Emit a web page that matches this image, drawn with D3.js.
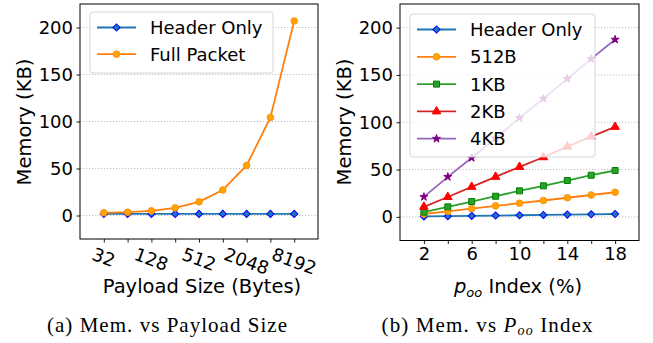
<!DOCTYPE html>
<html lang="en">
<head>
<meta charset="utf-8">
<title>Memory</title>
<script src="https://cdn.jsdelivr.net/npm/d3@7"></script>
<style>
  body { margin: 0; background: white; }
  text { font-family: "DejaVu Sans", sans-serif; fill: black; }
  .grid line { stroke: #b0b0b0; stroke-width: 0.8px; stroke-dasharray: 1.2,1.8; }
  .caption { font-family: "Liberation Serif", serif; }
</style>
</head>
<body>
<script>
  // ---- data ----
  var payloadSizes = [32, 64, 128, 256, 512, 1024, 2048, 4096, 8192];
  var headerOnlyA  = [1.7, 1.7, 1.7, 1.7, 1.7, 1.7, 1.7, 1.7, 1.7];
  var fullPacket   = [2.8, 3.5, 4.9, 8.1, 14.5, 27.2, 53.2, 104.3, 207];

  var pooIndex     = [2, 4, 6, 8, 10, 12, 14, 16, 18];
  var headerOnlyB  = [0.4, 0.7, 1.0, 1.4, 1.7, 2.0, 2.4, 2.7, 3.0];
  var mem512B      = [3.0, 5.8, 8.7, 11.6, 14.4, 17.3, 20.2, 23.1, 26.0];
  var mem1KB       = [4.9, 10.6, 16.2, 21.8, 27.5, 32.8, 38.4, 44.0, 49.0];
  var mem2KB       = [10.6, 21.0, 31.7, 42.3, 52.8, 63.0, 74.3, 84.8, 95.1];
  var mem4KB       = [21.1, 42.3, 62.4, 83.1, 104.6, 125.0, 145.9, 167.0, 187.4];

  var yTicks       = [0, 50, 100, 150, 200];
  var xLabelsA     = [32, 128, 512, 2048, 8192];
  var xLabelsB     = [2, 6, 10, 14, 18];

  var w = 653, h = 343;
  var fs = 18;

  var svg = d3.select("body").append("svg")
      .attr("width", w).attr("height", h);

  var styles = {
    header: {line: "#1f77b4", fill: "#1f77b4", edge: "blue", sym: "diamond"},
    orange: {line: "#ff7f0e", fill: "orange", edge: "#ff8c10", sym: "circle"},
    green:  {line: "#2ca02c", fill: "#2ca02c", edge: "green", sym: "square"},
    red:    {line: "#d62728", fill: "red", edge: "red", sym: "triangle"},
    purple: {line: "#9467bd", fill: "purple", edge: "purple", sym: "star"}
  };

  function symPath(s) {
    if (s == "diamond") return d3.symbol().type(d3.symbolSquare).size(26)();
    if (s == "circle") return d3.symbol().type(d3.symbolCircle).size(34)();
    if (s == "square") return d3.symbol().type(d3.symbolSquare).size(36)();
    if (s == "triangle") return d3.symbol().type(d3.symbolTriangle).size(32)();
    return d3.symbol().type(d3.symbolStar).size(20)();
  }
  function drawMarker(g, st, x, y) {
    g.append("path")
      .attr("d", symPath(st.sym))
      .attr("transform", "translate(" + x + "," + y + ")" + (st.sym == "diamond" ? " rotate(45)" : ""))
      .attr("fill", st.fill)
      .attr("stroke", st.edge)
      .attr("stroke-width", 1);
  }

  function drawSeries(g, x, y, xs, ys, st) {
    var pts = xs.map(function(d, i) { return [x(d), y(ys[i])]; });
    g.append("path")
      .attr("d", d3.line()(pts))
      .attr("fill", "none")
      .attr("stroke", st.line)
      .attr("stroke-width", 1.8);
    pts.forEach(function(p) { drawMarker(g, st, p[0], p[1]); });
  }

  function drawLegend(g, x0, y0, bw, bh, rowH, items) {
    g.append("rect")
      .attr("x", x0).attr("y", y0).attr("width", bw).attr("height", bh)
      .attr("rx", 3)
      .attr("fill", "white").attr("fill-opacity", 0.8)
      .attr("stroke", "#cccccc").attr("stroke-width", 0.8);
    items.forEach(function(it, i) {
      var cy = y0 + 15.5 + i * rowH;
      g.append("line")
        .attr("x1", x0 + 7).attr("x2", x0 + 46)
        .attr("y1", cy).attr("y2", cy)
        .attr("stroke", it.st.line).attr("stroke-width", 1.8);
      drawMarker(g, it.st, x0 + 26.5, cy);
      g.append("text")
        .attr("x", x0 + 60).attr("y", cy + 6.5)
        .attr("font-size", fs)
        .text(it.name);
    });
  }

  function frame(g, x0, x1, y0, y1) {
    g.append("rect")
      .attr("x", x0).attr("y", y0)
      .attr("width", x1 - x0).attr("height", y1 - y0)
      .attr("fill", "none").attr("stroke", "black").attr("stroke-width", 1);
  }

  function yAxis(g, y, x0, x1) {
    g.append("g").attr("class", "grid")
      .selectAll("line").data(yTicks).enter().append("line")
      .attr("x1", x0).attr("x2", x1)
      .attr("y1", function(d) { return y(d); })
      .attr("y2", function(d) { return y(d); });
    var ax = g.append("g")
      .attr("transform", "translate(" + x0 + ",0)")
      .call(d3.axisLeft(y).tickValues(yTicks).tickSize(3.5).tickPadding(3.5));
    ax.select(".domain").remove();
    ax.selectAll("text").attr("font-size", fs).attr("font-family", "DejaVu Sans");
    ax.selectAll("line").attr("stroke-width", 0.9);
  }

  // ================= (a) =================
  var a = svg.append("g");
  var xa = d3.scaleLog().base(2).domain([16, 16384]).range([80, 318]);
  var ya = d3.scaleLinear().domain([-25, 225]).range([239, 4]);

  yAxis(a, ya, 80, 318);

  var xaAx = a.append("g")
    .attr("transform", "translate(0,239)")
    .call(d3.axisBottom(xa).tickValues(payloadSizes).tickSize(3.5).tickFormat(""));
  xaAx.select(".domain").remove();
  xaAx.selectAll("line").attr("stroke-width", 0.9);

  var ang = 20, rad = ang * Math.PI / 180;
  xLabelsA.forEach(function(v) {
    var t = a.append("text")
      .attr("font-size", fs)
      .attr("text-anchor", "middle")
      .attr("dominant-baseline", "central")
      .text(v);
    var tw = t.node().getComputedTextLength();
    var th = fs * 0.74;
    var cy = 247 + (tw * Math.sin(rad) + th * Math.cos(rad)) / 2;
    t.attr("transform", "translate(" + xa(v) + "," + cy + ") rotate(" + ang + ")");
  });

  drawSeries(a, xa, ya, payloadSizes, headerOnlyA, styles.header);
  drawSeries(a, xa, ya, payloadSizes, fullPacket, styles.orange);
  frame(a, 80, 318, 4, 239);

  drawLegend(a, 90, 12, 183, 61, 26.7, [
    {name: "Header Only", st: styles.header},
    {name: "Full Packet", st: styles.orange}
  ]);

  a.append("text")
    .attr("x", 202).attr("y", 293)
    .attr("text-anchor", "middle").attr("font-size", 19.5)
    .text("Payload Size (Bytes)");
  a.append("text")
    .attr("transform", "translate(31,122) rotate(-90)")
    .attr("text-anchor", "middle").attr("font-size", 19.5)
    .text("Memory (KB)");
  a.append("text")
    .attr("class", "caption")
    .attr("x", 167).attr("y", 332)
    .attr("text-anchor", "middle").attr("font-size", 21)
    .attr("textLength", 240).attr("lengthAdjust", "spacing")
    .text("(a) Mem. vs Payload Size");

  // ================= (b) =================
  var b = svg.append("g");
  var xb = d3.scaleLinear().domain([0, 20]).range([400, 639]);
  var yb = d3.scaleLinear().domain([-25, 225]).range([240.5, 4]);

  yAxis(b, yb, 400, 639);

  var xbAx = b.append("g")
    .attr("transform", "translate(0,240.5)")
    .call(d3.axisBottom(xb).tickValues(pooIndex).tickSize(3.5).tickPadding(3.5)
      .tickFormat(function(d) { return xLabelsB.indexOf(d) >= 0 ? d : ""; }));
  xbAx.select(".domain").remove();
  xbAx.selectAll("text").attr("font-size", fs).attr("font-family", "DejaVu Sans");
  xbAx.selectAll("line").attr("stroke-width", 0.9);

  drawSeries(b, xb, yb, pooIndex, headerOnlyB, styles.header);
  drawSeries(b, xb, yb, pooIndex, mem512B, styles.orange);
  drawSeries(b, xb, yb, pooIndex, mem1KB, styles.green);
  drawSeries(b, xb, yb, pooIndex, mem2KB, styles.red);
  drawSeries(b, xb, yb, pooIndex, mem4KB, styles.purple);
  frame(b, 400, 639, 4, 240.5);

  drawLegend(b, 410, 14, 185, 143, 27.3, [
    {name: "Header Only", st: styles.header},
    {name: "512B", st: styles.orange},
    {name: "1KB", st: styles.green},
    {name: "2KB", st: styles.red},
    {name: "4KB", st: styles.purple}
  ]);

  var xl = b.append("text")
    .attr("x", 518).attr("y", 293)
    .attr("text-anchor", "middle").attr("font-size", 19.5);
  xl.append("tspan").attr("font-style", "italic").text("p");
  xl.append("tspan").attr("font-style", "italic").attr("font-size", 13).attr("dy", 4).text("oo");
  xl.append("tspan").attr("dy", -4).text(" Index (%)");

  b.append("text")
    .attr("transform", "translate(351,122) rotate(-90)")
    .attr("text-anchor", "middle").attr("font-size", 19.5)
    .text("Memory (KB)");

  var cap = b.append("text")
    .attr("class", "caption")
    .attr("x", 487).attr("y", 332)
    .attr("text-anchor", "middle").attr("font-size", 21)
    .attr("textLength", 211).attr("lengthAdjust", "spacing");
  cap.append("tspan").text("(b) Mem. vs ");
  cap.append("tspan").attr("font-style", "italic").text("P");
  cap.append("tspan").attr("font-style", "italic").attr("font-size", 14).attr("dy", 3).text("oo");
  cap.append("tspan").attr("dy", -3).text(" Index");
</script>
</body>
</html>
